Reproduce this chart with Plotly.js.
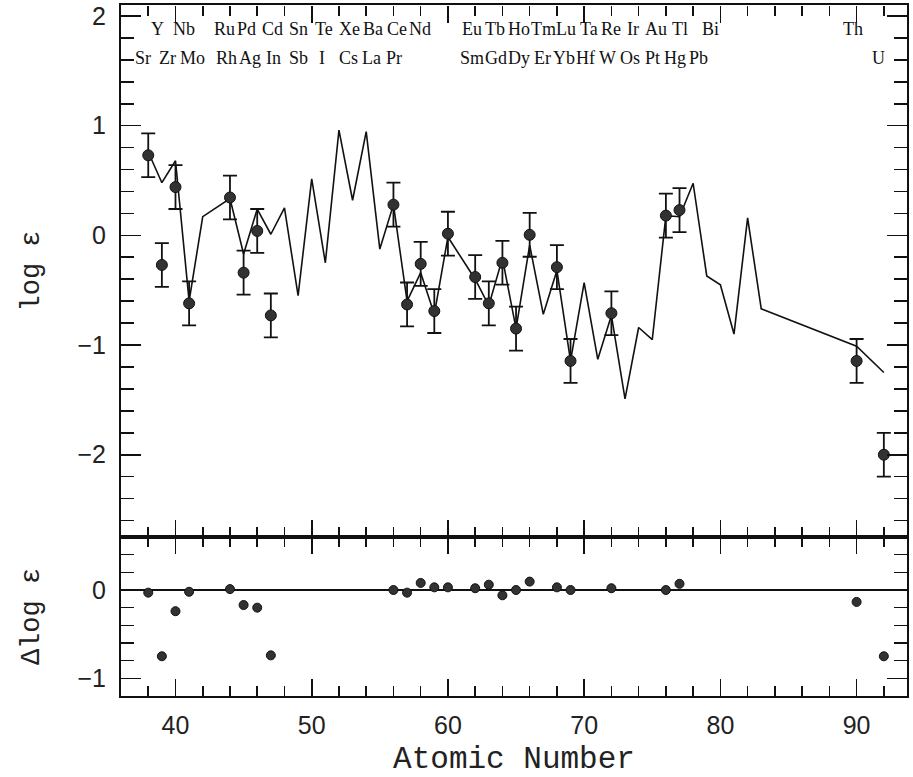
<!DOCTYPE html>
<html>
<head>
<meta charset="utf-8">
<script src="https://cdn.plot.ly/plotly-3.0.1.min.js"></script>
<style>html,body{margin:0;padding:0;background:#fff;}#chart{width:913px;height:777px;}</style>
</head>
<body>
<div id="chart"></div>
<script>
// Observed abundances (top panel)
const obsZ   = [38, 39, 40, 41, 44, 45, 46, 47, 56, 57, 58, 59, 60, 62, 63, 64, 65, 66, 68, 69, 72, 76, 77, 90, 92];
const obsLog = [0.73, -0.27, 0.44, -0.62, 0.345, -0.34, 0.04, -0.73, 0.28, -0.63, -0.26, -0.69, 0.015, -0.38, -0.62, -0.25, -0.85, 0.005, -0.29, -1.145, -0.71, 0.18, 0.23, -1.145, -2.0];
const obsErr = [0.2, 0.2, 0.2, 0.2, 0.2, 0.2, 0.2, 0.2, 0.2, 0.2, 0.2, 0.2, 0.2, 0.2, 0.2, 0.2, 0.2, 0.2, 0.2, 0.2, 0.2, 0.2, 0.2, 0.2, 0.2];

// Scaled solar r-process curve
const curveZ   = [38, 39, 40, 41, 42, 44, 45, 46, 47, 48, 49, 50, 51, 52, 53, 54, 55, 56, 57, 58, 59, 60, 62, 63, 64, 65, 66, 67, 68, 69, 70, 71, 72, 73, 74, 75, 76, 77, 78, 79, 80, 81, 82, 83, 90, 92];
const curveLog = [0.76, 0.48, 0.68, -0.60, 0.17, 0.335, -0.17, 0.24, 0.01, 0.25, -0.55, 0.515, -0.25, 0.96, 0.32, 0.945, -0.125, 0.28, -0.60, -0.34, -0.72, -0.015, -0.40, -0.64, -0.21, -0.85, -0.09, -0.72, -0.32, -1.145, -0.43, -1.13, -0.73, -1.49, -0.84, -0.95, 0.18, 0.17, 0.475, -0.37, -0.45, -0.90, 0.16, -0.67, -1.01, -1.25];

// Residuals (bottom panel)
const deltaLog = [-0.03, -0.75, -0.24, -0.02, 0.01, -0.17, -0.20, -0.74, 0.0, -0.03, 0.08, 0.03, 0.03, 0.02, 0.06, -0.06, 0.0, 0.095, 0.03, 0.0, 0.02, 0.0, 0.07, -0.135, -0.75];

// Element labels (two rows across the top)
const row1Names = ["Y","Nb","Ru","Pd","Cd","Sn","Te","Xe","Ba","Ce","Nd","Eu","Tb","Ho","Tm","Lu","Ta","Re","Ir","Au","Tl","Bi","Th"];
const row2Names = ["Sr","Zr","Mo","Rh","Ag","In","Sb","I","Cs","La","Pr","Sm","Gd","Dy","Er","Yb","Hf","W","Os","Pt","Hg","Pb","U"];

// ---- layout ----
const W = 913, H = 777;
const M = {l: 121, r: 6, t: 5, b: 81};
const plotW = W - M.l - M.r;
const xRange = [36, 93.7];
// label placement (pixel columns in the figure, as typeset in the original)
const row1Px = [157, 184, 224, 246, 272, 298, 324, 349, 373, 397, 420, 472, 495, 519, 543, 566, 589, 611, 633, 656, 680, 710, 853];
const row2Px = [143, 167, 192, 226, 250, 273, 298, 322, 348, 371, 394, 472, 496, 519, 542, 564, 585, 607, 630, 652, 675, 698, 878];
const pxToPaper = px => (px - M.l) / plotW;

const markerColor = '#303331';
const traces = [
  {x: curveZ, y: curveLog, xaxis: 'x', yaxis: 'y', mode: 'lines', type: 'scatter',
   line: {color: '#111', width: 1.6}, hoverinfo: 'skip'},
  {x: obsZ, y: obsLog, xaxis: 'x', yaxis: 'y', mode: 'markers', type: 'scatter',
   marker: {color: markerColor, size: 11, line: {color: '#111', width: 1}},
   error_y: {type: 'data', array: obsErr, visible: true, color: '#111', thickness: 1.8, width: 7}},
  {x: obsZ, y: deltaLog, xaxis: 'x2', yaxis: 'y2', mode: 'markers', type: 'scatter',
   marker: {color: markerColor, size: 9, line: {color: '#111', width: 1}}},
  // empty traces registering the mirror-tick axes
  {x: [], y: [], xaxis: 'x3', yaxis: 'y', type: 'scatter', mode: 'markers', hoverinfo: 'skip'},
  {x: [], y: [], xaxis: 'x4', yaxis: 'y2', type: 'scatter', mode: 'markers', hoverinfo: 'skip'},
  {x: [], y: [], xaxis: 'x', yaxis: 'y3', type: 'scatter', mode: 'markers', hoverinfo: 'skip'},
  {x: [], y: [], xaxis: 'x2', yaxis: 'y4', type: 'scatter', mode: 'markers', hoverinfo: 'skip'}
];

const annotations = [];
const lblFont = {family: 'Liberation Serif, serif', size: 18, color: '#111'};
row1Names.forEach((n, i) => annotations.push({x: pxToPaper(row1Px[i]), y: 1.88, xref: 'paper', yref: 'y', text: n, showarrow: false, font: lblFont, xanchor: 'center', yanchor: 'middle'}));
row2Names.forEach((n, i) => annotations.push({x: pxToPaper(row2Px[i]), y: 1.62, xref: 'paper', yref: 'y', text: n, showarrow: false, font: lblFont, xanchor: 'center', yanchor: 'middle'}));

const tickFont = {family: 'Liberation Sans, sans-serif', size: 25, color: '#222'};
const titleFont = {family: 'Liberation Mono, monospace', size: 31, color: '#222'};
const yTitleFont = {family: 'Liberation Mono, monospace', size: 27, color: '#222'};
const xTicks = {range: xRange, tickmode: 'linear', dtick: 10, tick0: 0, ticks: 'inside', ticklen: 17, tickwidth: 1.6, tickcolor: '#111',
  minor: {dtick: 2, tick0: 0, ticks: 'inside', ticklen: 10, tickwidth: 1.6, tickcolor: '#111'},
  showgrid: false, zeroline: false};
const yTicks = {tickmode: 'linear', dtick: 1, tick0: 0, ticks: 'inside', ticklen: 20, tickwidth: 1.6, tickcolor: '#111',
  minor: {dtick: 0.2, tick0: 0, ticks: 'inside', ticklen: 13, tickwidth: 1.6, tickcolor: '#111'},
  showgrid: false};
const frame = {showline: true, linecolor: '#111', linewidth: 2, mirror: true};

const split = 159 / 691;
const topRange = [-2.75, 2.1];
const botRange = [-1.2, 0.6];
const layout = {
  width: W, height: H,
  margin: M,
  paper_bgcolor: '#fff', plot_bgcolor: '#fff',
  showlegend: false,
  xaxis: Object.assign({}, xTicks, frame, {anchor: 'y', domain: [0, 1], showticklabels: false}),
  xaxis3: Object.assign({}, xTicks, {overlaying: 'x', anchor: 'free', position: 1, side: 'top', showticklabels: false, showline: false}),
  yaxis: Object.assign({}, yTicks, frame, {domain: [split, 1], range: topRange, zeroline: false,
    tickfont: tickFont, ticklabelstandoff: 8,
    title: {text: 'log ε', font: yTitleFont, standoff: 30}}),
  yaxis3: Object.assign({}, yTicks, {overlaying: 'y', anchor: 'x', side: 'right', range: topRange, zeroline: false, showticklabels: false, showline: false}),
  xaxis2: Object.assign({}, xTicks, frame, {anchor: 'y2', domain: [0, 1], tickfont: tickFont, ticklabelstandoff: 6,
    title: {text: 'Atomic Number', font: titleFont, standoff: 11}}),
  xaxis4: Object.assign({}, xTicks, {overlaying: 'x2', anchor: 'y2', side: 'top', showticklabels: false, showline: false}),
  yaxis2: Object.assign({}, yTicks, frame, {domain: [0, split], range: botRange, zeroline: true, zerolinecolor: '#111', zerolinewidth: 2,
    tickfont: tickFont, ticklabelstandoff: 8,
    title: {text: 'Δlog ε', font: yTitleFont, standoff: 30}}),
  yaxis4: Object.assign({}, yTicks, {overlaying: 'y2', anchor: 'x2', side: 'right', range: botRange, zeroline: false, showticklabels: false, showline: false}),
  annotations: annotations
};

Plotly.newPlot('chart', traces, layout, {displayModeBar: false, staticPlot: true});
</script>
</body>
</html>
